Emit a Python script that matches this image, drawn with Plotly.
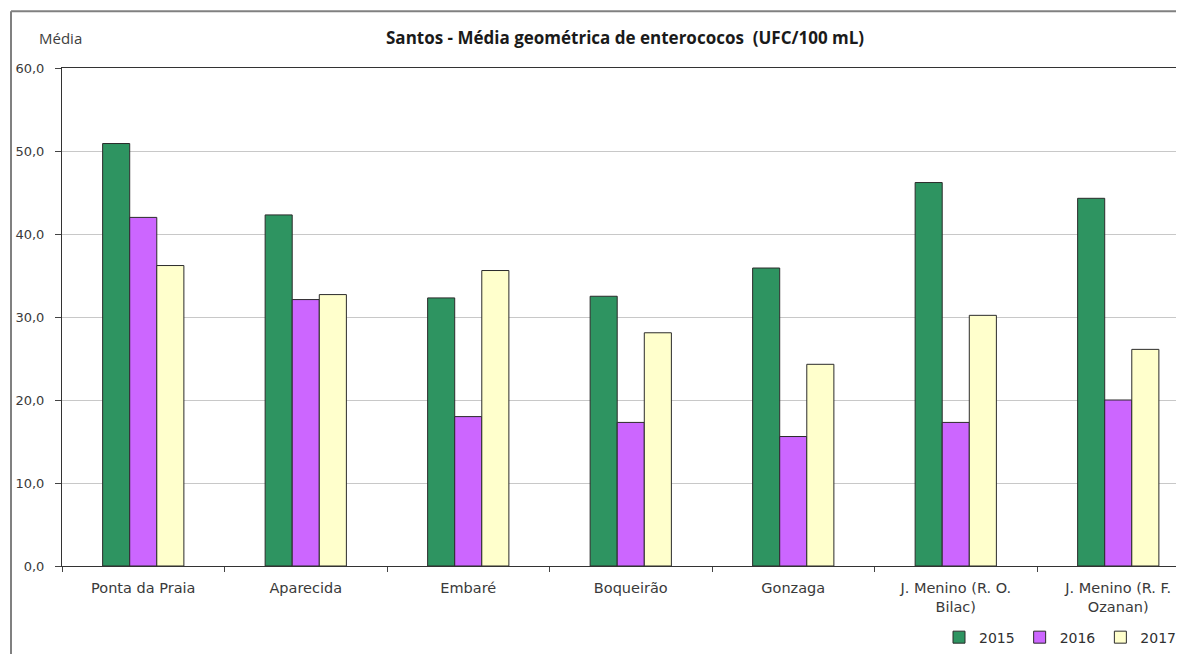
import plotly.graph_objects as go

categories = ["Ponta da Praia", "Aparecida", "Embaré", "Boqueirão", "Gonzaga",
              "J. Menino (R. O.<br>Bilac)", "J. Menino (R. F.<br>Ozanan)"]
years = ["2015", "2016", "2017"]
v2015 = [50.9, 42.3, 32.3, 32.5, 35.9, 46.2, 44.3]
v2016 = [42.0, 32.1, 18.0, 17.3, 15.6, 17.3, 20.0]
v2017 = [36.2, 32.7, 35.6, 28.1, 24.3, 30.2, 26.1]
series = [v2015, v2016, v2017]
colors = ["#2E9461", "#CC66FF", "#FFFFCC"]
yticks = [0, 10, 20, 30, 40, 50, 60]

OFF = 8  # page body margin
SW, SH = 1184, 654
W, H = SW - OFF, SH - OFF
L, T, B = 62, 68, 569  # plot area in screenshot coordinates
pw, ph = SW - L, B - T
def px(x):
    return (x - L) / pw
def py(y):
    return (B - y) / ph

fig = go.Figure()
for name, vals, c in zip(years, series, colors):
    fig.add_trace(go.Bar(x=categories, y=vals, name=name,
                         marker=dict(color=c, line=dict(color="#2b2b2b", width=1))))

catw = 162.5
fig.update_layout(
    width=W, height=H,
    margin=dict(l=L - OFF, r=0, t=T - OFF, b=SH - B),
    paper_bgcolor="white", plot_bgcolor="white",
    barmode="group", bargap=0.5, bargroupgap=0,
    separators=",.",
    font=dict(family="DejaVu Sans", size=13, color="#404040"),
    xaxis=dict(type="category", range=[-0.5, pw / catw - 0.5],
               showline=True, linecolor="#333", linewidth=1, mirror=True,
               ticks="outside", tickson="boundaries", ticklen=5, tickcolor="#444",
               ticklabelstandoff=9,
               showgrid=False, tickfont=dict(family="DejaVu Sans", size=14.5, color="#3a3a3a")),
    yaxis=dict(range=[0, 60], tickvals=yticks, tickformat=".1f",
               showline=True, linecolor="#333", linewidth=1,
               ticks="outside", ticklen=6, tickcolor="#444",
               ticklabelstandoff=8,
               gridcolor="#c8c8c8", gridwidth=1, zeroline=False,
               tickfont=dict(family="DejaVu Sans", size=13, color="#3a3a3a")),
    showlegend=True,
    legend=dict(orientation="h", x=px(1182), xanchor="right", y=py(641), yanchor="middle",
                font=dict(family="DejaVu Sans", size=14, color="#303030"),
                bgcolor="rgba(0,0,0,0)", itemwidth=30),
    annotations=[
        dict(text="<b>Santos - Média geométrica de enterococos  (UFC/100 mL)</b>",
             x=px(625), y=py(37), xref="paper", yref="paper", showarrow=False,
             xanchor="center", yanchor="middle",
             font=dict(family="Open Sans", size=17, color="#1a1a1a")),
        dict(text="Média", x=px(37), y=py(38), xref="paper", yref="paper", showarrow=False,
             xanchor="left", yanchor="middle",
             font=dict(family="Open Sans", size=15, color="#404040")),
    ],
    shapes=[
        dict(type="line", xref="paper", yref="paper", x0=px(11), x1=px(11), y0=py(660), y1=py(11),
             line=dict(color="#808080", width=2)),
        dict(type="line", xref="paper", yref="paper", x0=px(11), x1=px(1184), y0=py(11), y1=py(11),
             line=dict(color="#808080", width=2)),
    ],
)
fig.write_html("out.html")
